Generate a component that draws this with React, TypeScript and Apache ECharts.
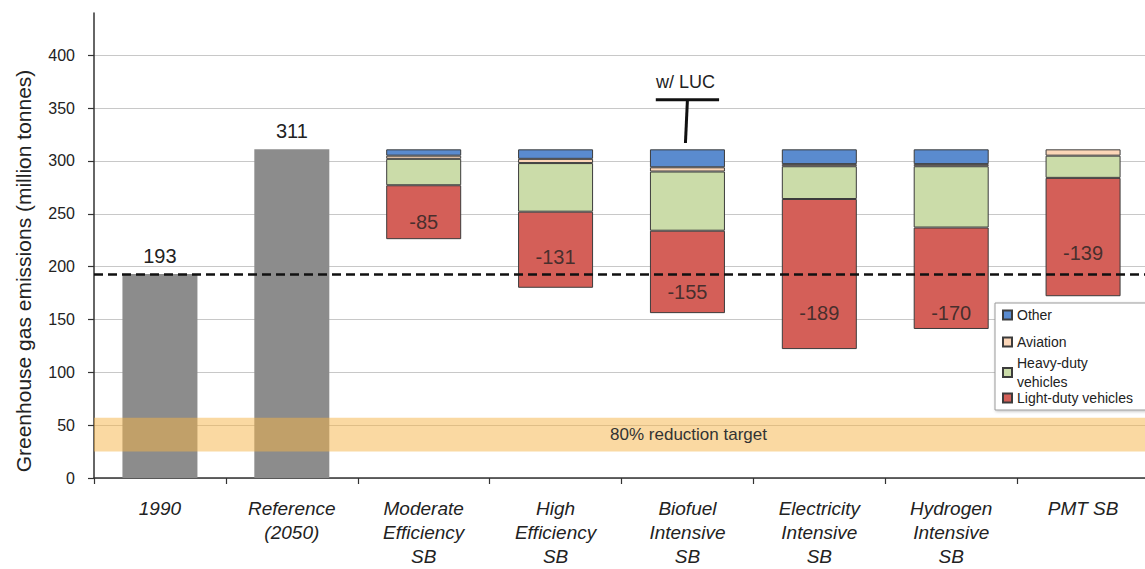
import { useEffect, useRef } from 'react';
import * as echarts from 'echarts';

const categories = [
  '1990',
  'Reference\n(2050)',
  'Moderate\nEfficiency\nSB',
  'High\nEfficiency\nSB',
  'Biofuel\nIntensive\nSB',
  'Electricity\nIntensive\nSB',
  'Hydrogen\nIntensive\nSB',
  'PMT SB',
];
const historicTotals = [193, 311];
const referenceLevel = 311;
const level1990 = 193;
const other = [null, null, 6, 9, 17, 14, 14, 0];
const aviation = [null, null, 3, 4, 4, 2, 2, 6];
const heavyDuty = [null, null, 25, 46, 56, 31, 58, 21];
const lightDuty = [null, null, 51, 72, 78, 142, 96, 112];
const reductionLabelY = [null, null, 242, 209, 176, 156, 156, 213];
const targetBand = [25, 57];
const lucCategory = 4;
const lucRange = [317, 358];
const yTicks = [0, 50, 100, 150, 200, 250, 300, 350, 400];

const FONT = '"Liberation Sans", Arial, sans-serif';
const TEXT = '#222';
const BORDER = '#3c3c3c';

function segTotal(i: number): number {
  return [other, aviation, heavyDuty, lightDuty].reduce((s, a) => s + ((a[i] as number) || 0), 0);
}

function toBar(arr: (number | null)[]) {
  return arr.map((v) => (v === null || v === 0 ? '-' : v));
}

export default function App() {
  const ref = useRef<HTMLDivElement>(null);
  useEffect(() => {
    if (!ref.current) return;
    const chart = echarts.init(ref.current, null, { renderer: 'svg' });

    const baseData = categories.map((_, i) => {
      if (i < historicTotals.length) {
        return {
          value: historicTotals[i],
          itemStyle: { color: '#8c8c8c', borderWidth: 0 },
          label: {
            show: true,
            position: 'top',
            distance: 8,
            fontSize: 20,
            color: TEXT,
            fontFamily: FONT,
          },
        };
      }
      return {
        value: referenceLevel - segTotal(i),
        itemStyle: { color: 'rgba(0,0,0,0)', borderWidth: 0 },
        label: { show: false },
      };
    });

    const labelData = categories
      .map((_, i) =>
        reductionLabelY[i] === null ? null : [i, reductionLabelY[i] as number, -segTotal(i)]
      )
      .filter((d) => d !== null);

    const segStyle = (color: string) => ({ color, borderColor: BORDER, borderWidth: 1 });

    const legendPos = [
      { name: 'Other', top: 305.5 },
      { name: 'Aviation', top: 332.5 },
      { name: 'Heavy-duty vehicles', top: 353.5 },
      { name: 'Light-duty vehicles', top: 388.5 },
    ];

    const option: any = {
      animation: false,
      textStyle: { fontFamily: FONT },
      grid: {
        left: 94,
        top: 13,
        width: 1055,
        height: 465,
        containLabel: false,
        outerBoundsMode: 'none',
      },
      legend: legendPos.map((l) => ({
        left: 1002,
        top: l.top,
        orient: 'vertical',
        padding: 0,
        itemGap: 0,
        itemWidth: 9,
        itemHeight: 9,
        icon: 'rect',
        selectedMode: false,
        z: 20,
        data: [l.name],
        formatter: (n: string) => (n === 'Heavy-duty vehicles' ? 'Heavy-duty\nvehicles' : n),
        textStyle: { fontSize: 14, color: TEXT, fontFamily: FONT, lineHeight: 19 },
      })),
      graphic: [
        {
          type: 'rect',
          z: 10,
          shape: { x: 995, y: 303, width: 170, height: 107 },
          style: {
            fill: '#fff',
            stroke: '#9a9a9a',
            lineWidth: 1,
            shadowBlur: 3,
            shadowOffsetX: 1,
            shadowOffsetY: 1,
            shadowColor: 'rgba(0,0,0,0.25)',
          },
        },
        {
          type: 'text',
          x: 23,
          y: 271,
          rotation: Math.PI / 2,
          style: {
            text: 'Greenhouse gas emissions (million tonnes)',
            fill: TEXT,
            font: `21px ${FONT}`,
            align: 'center',
            verticalAlign: 'middle',
          },
        },
      ],
      xAxis: {
        type: 'category',
        data: categories,
        axisLine: { lineStyle: { color: '#333', width: 1.5 } },
        axisTick: { show: true, length: 6, lineStyle: { color: '#333', width: 1.2 } },
        axisLabel: {
          interval: 0,
          fontStyle: 'italic',
          fontSize: 19,
          lineHeight: 24,
          color: TEXT,
          margin: 18,
          fontFamily: FONT,
        },
      },
      yAxis: {
        type: 'value',
        min: 0,
        max: 440,
        interval: 50,
        axisLine: { show: true, lineStyle: { color: '#333', width: 1.5 } },
        axisTick: {
          show: true,
          length: 6,
          customValues: yTicks,
          lineStyle: { color: '#333', width: 1.2 },
        },
        axisLabel: {
          customValues: yTicks,
          fontSize: 16,
          color: TEXT,
          margin: 19,
          fontFamily: FONT,
        },
        splitLine: {
          show: true,
          lineStyle: { color: '#c8c8c8', width: 1 },
        },
      },
      series: [
        {
          name: 'base',
          type: 'bar',
          stack: 'total',
          barWidth: 75,
          data: baseData,
          z: 2,
          markLine: {
            silent: true,
            symbol: 'none',
            label: { show: false },
            lineStyle: { color: '#111', width: 2.5, type: [9, 5] },
            data: [{ yAxis: level1990 }],
            z: 6,
          },
        },
        {
          name: 'Light-duty vehicles',
          type: 'bar',
          stack: 'total',
          data: toBar(lightDuty),
          itemStyle: segStyle('#d45f58'),
        },
        {
          name: 'Heavy-duty vehicles',
          type: 'bar',
          stack: 'total',
          data: toBar(heavyDuty),
          itemStyle: segStyle('#cbdca9'),
        },
        {
          name: 'Aviation',
          type: 'bar',
          stack: 'total',
          data: toBar(aviation),
          itemStyle: segStyle('#fbd6b8'),
        },
        {
          name: 'Other',
          type: 'bar',
          stack: 'total',
          data: toBar(other),
          itemStyle: segStyle('#5a8bcf'),
        },
        {
          name: 'labels',
          type: 'scatter',
          symbolSize: 1,
          itemStyle: { color: 'rgba(0,0,0,0)' },
          z: 7,
          data: labelData,
          label: {
            show: true,
            position: 'inside',
            fontSize: 20,
            color: TEXT,
            fontFamily: FONT,
            formatter: (p: any) => String(p.value[2]),
          },
          markArea: {
            silent: true,
            z: 5,
            itemStyle: { color: 'rgba(245,180,70,0.5)' },
            label: {
              show: true,
              position: 'inside',
              offset: [67, 0],
              fontSize: 17,
              color: '#333',
              fontFamily: FONT,
            },
            data: [[{ yAxis: targetBand[0], name: '80% reduction target' }, { yAxis: targetBand[1] }]],
          },
        },
        {
          name: 'LUC',
          type: 'custom',
          z: 8,
          data: [[lucCategory, lucRange[0], lucRange[1]]],
          renderItem: (params: any, api: any) => {
            const top = api.coord([api.value(0), api.value(2)]);
            const bottom = api.coord([api.value(0), api.value(1)]);
            const half = api.size([1, 0])[0] * 0.24;
            return {
              type: 'group',
              children: [
                {
                  type: 'line',
                  shape: { x1: top[0] - half, y1: top[1], x2: top[0] + half, y2: top[1] },
                  style: { stroke: '#111', lineWidth: 3 },
                },
                {
                  type: 'line',
                  shape: { x1: top[0], y1: top[1], x2: bottom[0] - 2, y2: bottom[1] },
                  style: { stroke: '#111', lineWidth: 3 },
                },
                {
                  type: 'text',
                  x: top[0] - 2,
                  y: top[1] - 18,
                  style: {
                    text: 'w/ LUC',
                    fill: TEXT,
                    font: `18px ${FONT}`,
                    align: 'center',
                    verticalAlign: 'middle',
                  },
                },
              ],
            };
          },
        },
      ],
    };

    chart.setOption(option);
    return () => chart.dispose();
  }, []);

  return (
    <div
      ref={ref}
      style={{ position: 'absolute', left: 0, top: 0, width: 1145, height: 569, background: '#fff' }}
    />
  );
}
